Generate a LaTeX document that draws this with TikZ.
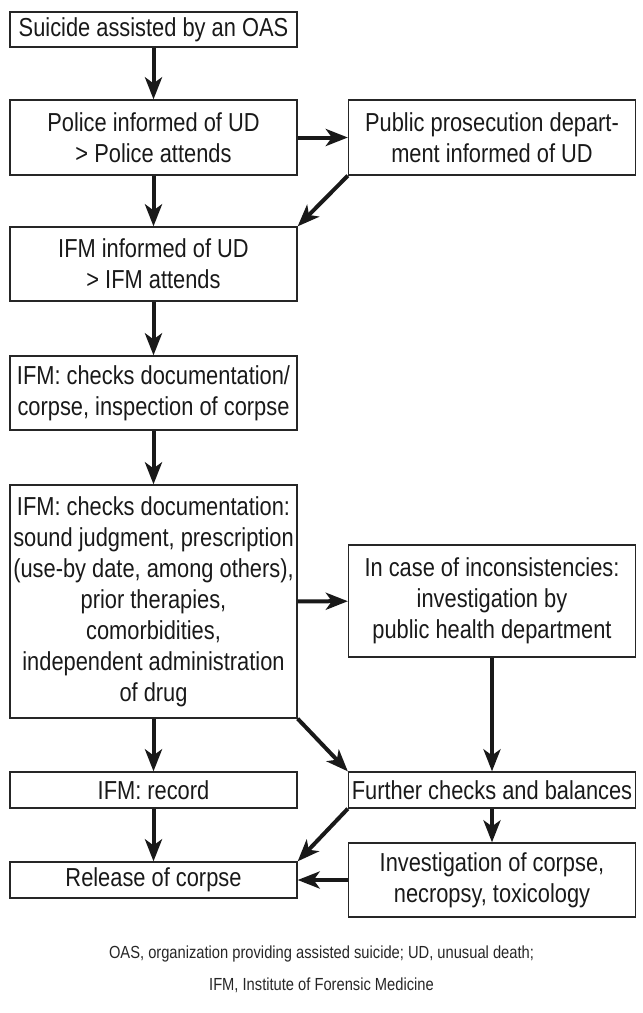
\documentclass[tikz,border=0pt]{standalone}
\usepackage{fontspec}
\setmainfont[FakeStretch=0.84]{Liberation Sans}
\usetikzlibrary{arrows.meta}
\begin{document}
\begin{tikzpicture}[
        x=1pt, y=-1pt,
        stage/.style={rectangle, draw=black!85, line width=1.3pt, minimum width=287pt, inner sep=0pt, align=center, font=\fontsize{26}{31}\selectfont, text=black!90},
        arrow/.style={-{Stealth[length=22pt, width=17pt, inset=6pt]}, line width=4pt, black!90}
    ]
        \useasboundingbox (0,0) rectangle (643,1013);

        % Left column
        \node[stage, minimum height=35pt] (start) at (153.5,29.5) {Suicide assisted by an OAS};
        \node[stage, minimum height=75pt] (police) at (153.5,137.5) {Police informed of UD\\> Police attends};
        \node[stage, minimum height=74pt] (ifminf) at (153.5,264) {IFM informed of UD\\> IFM attends};
        \node[stage, minimum height=74pt] (inspect) at (153.5,393) {IFM: checks documentation/\\corpse, inspection of corpse};
        \node[stage, minimum height=233pt] (docs) at (153.5,601.5) {IFM: checks documentation:\\sound judgment, prescription\\(use-by date, among others),\\prior therapies,\\comorbidities,\\independent administration\\of drug};
        \node[stage, minimum height=36pt] (record) at (153.5,790) {IFM: record};
        \node[stage, minimum height=36pt] (release) at (153.5,880) {Release of corpse};

        % Right column
        \node[stage, minimum height=75pt] (prosec) at (492,137.5) {Public prosecution depart-\\ment informed of UD};
        \node[stage, minimum height=112pt] (incons) at (492,601) {In case of inconsistencies:\\investigation by\\public health department};
        \node[stage, minimum height=36pt] (further) at (492,790) {Further checks and balances};
        \node[stage, minimum height=74pt] (invest) at (492,880) {Investigation of corpse,\\necropsy, toxicology};

        % Connect stages
        \draw[arrow] (start) -- (police);
        \draw[arrow] (police) -- (prosec);
        \draw[arrow] (police) -- (ifminf);
        \draw[arrow] (prosec.south west) -- (ifminf.north east);
        \draw[arrow] (ifminf) -- (inspect);
        \draw[arrow] (inspect) -- (docs);
        \draw[arrow] (docs) -- (incons);
        \draw[arrow] (incons) -- (further);
        \draw[arrow] (docs) -- (record);
        \draw[arrow] (docs.south east) -- (further.north west);
        \draw[arrow] (record) -- (release);
        \draw[arrow] (further.south west) -- (release.north east);
        \draw[arrow] (further) -- (invest);
        \draw[arrow] (invest) -- (release);

        % Abbreviations
        \node[align=center, font=\fontsize{17.5}{32}\selectfont, text=black!85] (legend) at (321.5,969) {OAS, organization providing assisted suicide; UD, unusual death;\\IFM, Institute of Forensic Medicine};
    \end{tikzpicture}
\end{document}
